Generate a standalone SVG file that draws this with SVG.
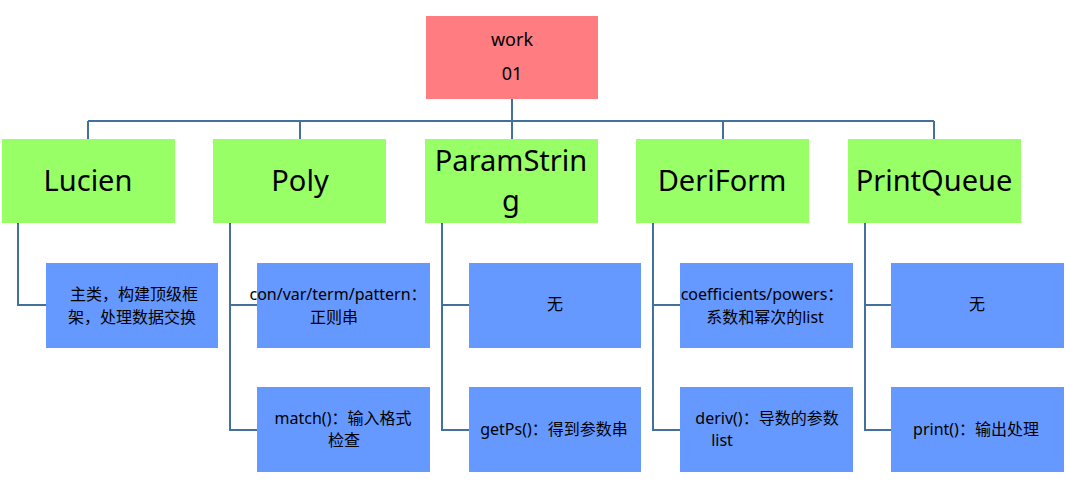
<svg xmlns="http://www.w3.org/2000/svg" width="1066" height="488" viewBox="0 0 1066 488">
<style>
.c{fill:none;stroke:#41719C;stroke-width:2}
.r{fill:#FF7C80}
.g{fill:#99FF66}
.b{fill:#6699FF}
text{font-family:"Noto Sans","Noto Sans CJK SC",sans-serif;fill:#000;text-anchor:middle}
.t1{font-size:29px}
.t2{font-size:16px}
.t0{font-size:18px}
</style>
<rect width="1066" height="488" fill="#fff"/>
<g id="connectors">
<path class="c" d="M512 99V121M88 121H934M88 121V139M300 121V139M512 121V139M723 121V139M934 121V139"/>
<path class="c" d="M18 223V305H46"/>
<path class="c" d="M230 223V430H257M230 305H257"/>
<path class="c" d="M442 223V430H469M442 305H469"/>
<path class="c" d="M653 223V430H680M653 305H680"/>
<path class="c" d="M865 223V430H891M865 305H891"/>
</g>
<g id="work"><rect class="r" x="426" y="16" width="172" height="83"/><text class="t0" x="512" y="46">work</text><text class="t0" x="512" y="80">01</text></g>
<g id="Lucien"><rect class="g" x="2" y="139" width="173" height="84"/><text class="t1" x="88" y="191">Lucien</text></g>
<g id="Poly"><rect class="g" x="213" y="139" width="173" height="84"/><text class="t1" x="300" y="191">Poly</text></g>
<g id="ParamString"><rect class="g" x="425" y="139" width="173" height="84"/><text class="t1" x="511" y="171">ParamStrin</text><text class="t1" x="511" y="211">g</text></g>
<g id="DeriForm"><rect class="g" x="636" y="139" width="173" height="84"/><text class="t1" x="722" y="191">DeriForm</text></g>
<g id="PrintQueue"><rect class="g" x="848" y="139" width="173" height="84"/><text class="t1" x="934" y="191">PrintQueue</text></g>
<g id="lucien1"><rect class="b" x="46" y="263" width="172" height="85"/><text class="t2" x="134" y="300">主类，构建顶级框</text><text class="t2" x="132" y="323">架，处理数据交换</text></g>
<g id="poly1"><rect class="b" x="257" y="263" width="173" height="85"/><text class="t2" x="338" y="300">con/var/term/pattern：</text><text class="t2" x="334" y="323">正则串</text></g>
<g id="poly2"><rect class="b" x="257" y="387" width="173" height="85"/><text class="t2" x="343" y="424">match()：输入格式</text><text class="t2" x="344" y="446">检查</text></g>
<g id="ps1"><rect class="b" x="469" y="263" width="172" height="85"/><text class="t2" x="555" y="310">无</text></g>
<g id="ps2"><rect class="b" x="469" y="387" width="172" height="85"/><text class="t2" x="554" y="435">getPs()：得到参数串</text></g>
<g id="df1"><rect class="b" x="680" y="263" width="173" height="85"/><text class="t2" x="762" y="300">coefficients/powers：</text><text class="t2" x="765" y="323">系数和幂次的list</text></g>
<g id="df2"><rect class="b" x="680" y="387" width="173" height="85"/><text class="t2" x="767" y="424">deriv()：导数的参数</text><text class="t2" x="722" y="446">list</text></g>
<g id="pq1"><rect class="b" x="891" y="263" width="173" height="85"/><text class="t2" x="977" y="310">无</text></g>
<g id="pq2"><rect class="b" x="891" y="387" width="173" height="85"/><text class="t2" x="976" y="435">print()：输出处理</text></g>
</svg>
